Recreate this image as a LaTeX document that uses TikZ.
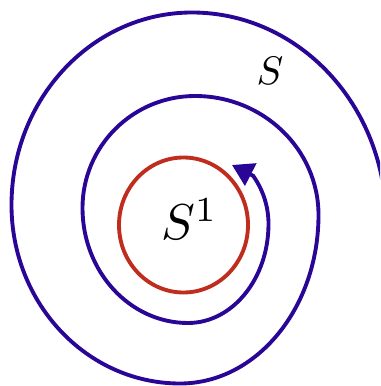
\documentclass[tikz,border=0pt]{standalone}
\usetikzlibrary{arrows.meta}
\definecolor{SpiralBlue}{RGB}{42,6,150}
\definecolor{LoopRed}{RGB}{190,45,30}
\tikzset{
  spiral/.style={draw=SpiralBlue,line width=3.3pt},
  loopline/.style={draw=LoopRed,line width=3.3pt},
  lbl/.style={inner sep=0pt},
}
\begin{document}
\begin{tikzpicture}[x=0.03cm,y=0.03cm]
\useasboundingbox (0,0) rectangle (380,386);
\clip (0,0) rectangle (380,386);
% the circle
\draw[loopline] (183.5,161) ellipse [x radius=64.5,y radius=67.5];
% the spiral, quarter by quarter, from outside inwards
\coordinate (start) at (386,165);
\coordinate (tip) at (232,221);
\draw[spiral,-{Triangle[length=18pt,width=21pt]}] (start)
  arc[start angle=0,end angle=90,x radius=194,y radius=208.5]
  arc[start angle=90,end angle=180,x radius=180.5,y radius=192.5]
  arc[start angle=180,end angle=270,x radius=168.5,y radius=178.5]
  arc[start angle=270,end angle=360,x radius=138.5,y radius=168.5]
  arc[start angle=0,end angle=90,x radius=123.5,y radius=119]
  arc[start angle=90,end angle=180,x radius=112.5,y radius=112]
  arc[start angle=180,end angle=270,x radius=105.5,y radius=115]
  arc[start angle=270,end angle=360,x radius=80.5,y radius=99]
  arc[start angle=0,end angle=36,x radius=80.5,y radius=82] -- (tip);
% labels
\node[lbl,scale=3.4] (s) at (270,315) {$S$};
\node[lbl,scale=4.3] (s1) at (189.5,167) {$S^1$};
\end{tikzpicture}
\end{document}
